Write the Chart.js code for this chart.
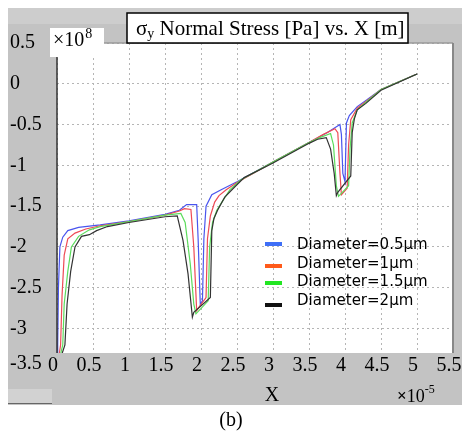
<!DOCTYPE html>
<html>
<head>
<meta charset="utf-8">
<script src="https://cdn.jsdelivr.net/npm/chart.js@4.4.1/dist/chart.umd.min.js"></script>
<style>
html,body{margin:0;padding:0;background:#fff;}
#wrap{width:462px;height:437px;position:relative;}
</style>
</head>
<body>
<div id="wrap"><canvas id="c" width="462" height="437"></canvas></div>
<script>
// ---- data (x in units of 1e-5 m, stress in units of 1e8 Pa) ----
const seriesLabels = ["Diameter=0.5μm", "Diameter=1μm", "Diameter=1.5μm", "Diameter=2μm"];

const xD05 = [0, 0.01, 0.02, 0.04, 0.08, 0.15, 0.3, 0.6, 1.0, 1.5, 1.7, 1.8, 1.94, 1.96, 1.99, 2.02, 2.04, 2.07, 2.15, 2.28, 2.5, 3.0, 3.5, 3.75, 3.93, 3.95, 3.97, 4.0, 4.02, 4.06, 4.17, 4.3, 4.5, 5.0];
const yD05 = [-3.5, -3.2, -2.5, -2.0, -1.88, -1.8, -1.76, -1.73, -1.68, -1.6, -1.55, -1.48, -1.48, -1.9, -2.7, -2.66, -1.9, -1.5, -1.36, -1.3, -1.2, -0.96, -0.72, -0.6, -0.5, -0.62, -1.1, -1.2, -0.48, -0.39, -0.28, -0.2, -0.07, 0.12];

const xD10 = [0, 0.05, 0.07, 0.1, 0.15, 0.25, 0.4, 0.6, 1.0, 1.5, 1.7, 1.77, 1.86, 1.9, 1.94, 1.97, 2.07, 2.09, 2.13, 2.19, 2.25, 2.35, 2.5, 3.0, 3.5, 3.7, 3.86, 3.9, 3.93, 3.95, 4.03, 4.05, 4.08, 4.17, 4.3, 4.5, 5.0];
const yD10 = [-3.5, -3.2, -2.6, -2.1, -1.9, -1.83, -1.78, -1.74, -1.69, -1.61, -1.56, -1.53, -1.54, -2.0, -2.78, -2.74, -2.62, -1.9, -1.62, -1.45, -1.37, -1.3, -1.21, -0.96, -0.72, -0.62, -0.55, -0.6, -1.1, -1.36, -1.28, -0.75, -0.44, -0.3, -0.21, -0.07, 0.12];

const xD15 = [0, 0.08, 0.1, 0.15, 0.2, 0.3, 0.45, 0.6, 1.0, 1.5, 1.6, 1.72, 1.78, 1.85, 1.9, 1.93, 2.1, 2.12, 2.16, 2.22, 2.29, 2.4, 2.55, 3.0, 3.5, 3.65, 3.8, 3.84, 3.88, 3.91, 4.05, 4.07, 4.1, 4.17, 4.3, 4.5, 5.0];
const yD15 = [-3.5, -3.2, -2.7, -2.3, -2.0, -1.87, -1.79, -1.75, -1.69, -1.61, -1.6, -1.59, -1.7, -2.2, -2.7, -2.82, -2.66, -2.0, -1.7, -1.55, -1.45, -1.3, -1.18, -0.96, -0.72, -0.66, -0.61, -0.75, -1.25, -1.38, -1.25, -0.8, -0.48, -0.32, -0.22, -0.07, 0.12];

const xD20 = [0, 0.11, 0.14, 0.19, 0.25, 0.34, 0.45, 0.55, 0.7, 1.0, 1.5, 1.67, 1.75, 1.82, 1.88, 1.9, 2.13, 2.15, 2.18, 2.23, 2.33, 2.45, 2.6, 3.0, 3.5, 3.62, 3.74, 3.8, 3.85, 3.88, 3.9, 4.08, 4.1, 4.13, 4.17, 4.29, 4.5, 5.0];
const yD20 = [-3.5, -3.2, -2.7, -2.3, -2.0, -1.87, -1.85, -1.8, -1.75, -1.7, -1.63, -1.62, -1.92, -2.33, -2.86, -2.8, -2.62, -1.8, -1.65, -1.55, -1.39, -1.28, -1.15, -0.97, -0.73, -0.68, -0.66, -0.8, -1.1, -1.37, -1.33, -1.13, -0.6, -0.43, -0.32, -0.24, -0.08, 0.12];

const xTicks = [0, 0.5, 1, 1.5, 2, 2.5, 3, 3.5, 4, 4.5, 5, 5.5];
const yTicks = [0.5, 0, -0.5, -1, -1.5, -2, -2.5, -3];
const extraYTick = "-3.5";
const titleSym = "σ", titleSub = "y", titleRest = " Normal Stress [Pa] vs. X [m]";
const yExpBase = "×10", yExp = "8";
const xAxisLabel = "X";
const xExpBase = "×10", xExp = "-5";
const caption = "(b)";

const lineColors = ["#4a55ee", "#ee4a55", "#5cdc5c", "#333333"];
const legendColors = ["#3f6ff7", "#ff5a1a", "#22e622", "#111111"];

function pts(xs, ys){ return xs.map((x,i)=>({x:x, y:ys[i]})); }

const decor = {
  id:'decor',
  beforeDraw(chart){
    const ctx = chart.ctx, a = chart.chartArea;
    ctx.save();
    ctx.fillStyle = '#fff'; ctx.fillRect(0,0,462,437);
    ctx.fillStyle = '#c3c3c3'; ctx.fillRect(8,8,454,397);
    ctx.fillStyle = '#cdcdcd'; ctx.fillRect(8,8,454,16);
    ctx.fillStyle = '#fff'; ctx.fillRect(a.left,a.top,a.right-a.left,a.bottom-a.top);
    ctx.restore();
  },
  afterDraw(chart){
    const ctx = chart.ctx, a = chart.chartArea;
    ctx.save();
    // plot borders
    ctx.strokeStyle = '#9a9a9a'; ctx.lineWidth = 1.5;
    ctx.beginPath(); ctx.moveTo(a.left, a.top); ctx.lineTo(a.right, a.top); ctx.stroke();
    ctx.strokeStyle = '#888'; ctx.lineWidth = 2;
    ctx.beginPath(); ctx.moveTo(a.right, a.top); ctx.lineTo(a.right, a.bottom); ctx.stroke();
    ctx.strokeStyle = '#333'; ctx.lineWidth = 1.5;
    ctx.beginPath(); ctx.moveTo(a.left, a.top); ctx.lineTo(a.left, a.bottom); ctx.stroke();

    // title box
    ctx.fillStyle = '#fff'; ctx.fillRect(127,13,281,30);
    ctx.strokeStyle = '#000'; ctx.lineWidth = 1.5; ctx.strokeRect(127,13,281,30);
    ctx.fillStyle = '#000'; ctx.textBaseline = 'alphabetic'; ctx.textAlign = 'left';
    ctx.font = '21px "Liberation Serif"';
    ctx.fillText(titleSym, 136, 35);
    let w = ctx.measureText(titleSym).width;
    ctx.font = '14px "Liberation Serif"';
    ctx.fillText(titleSub, 136 + w, 38);
    let w2 = ctx.measureText(titleSub).width;
    ctx.font = '21px "Liberation Serif"';
    ctx.fillText(titleRest, 136 + w + w2, 35);

    // y exponent box
    ctx.fillStyle = '#fff'; ctx.fillRect(50,28,54,29);
    ctx.fillStyle = '#000';
    ctx.font = '20px "Liberation Serif"';
    ctx.fillText(yExpBase, 53, 46);
    let w3 = ctx.measureText(yExpBase).width;
    ctx.font = '14px "Liberation Serif"';
    ctx.fillText(yExp, 53 + w3 + 1, 38);

    // extra -3.5 label on x-axis row
    ctx.font = '20px "Liberation Serif"';
    ctx.textBaseline = 'middle';
    ctx.fillText(extraYTick, 10, 364);

    // X label and exponent
    ctx.textAlign = 'center';
    ctx.fillText(xAxisLabel, 272, 396);
    ctx.textAlign = 'left';
    ctx.font = 'bold 17px "Liberation Serif"';
    ctx.fillText("×", 397, 397);
    let wx = ctx.measureText("×").width;
    ctx.font = '18px "Liberation Serif"';
    ctx.fillText("10", 397 + wx, 397);
    let w10 = ctx.measureText("10").width;
    ctx.font = '12px "Liberation Serif"';
    ctx.fillText(xExp, 397 + wx + w10, 390);

    // caption
    ctx.font = '20px "Liberation Serif"';
    ctx.textAlign = 'center';
    ctx.fillText(caption, 231, 421);

    // bottom-left artifact
    ctx.fillStyle = '#d2d2d2'; ctx.fillRect(8,389,44,14);
    ctx.fillStyle = '#666'; ctx.fillRect(8,403,44,1);

    // legend
    const rows = [245, 264, 282, 301];
    const lineY = [244, 266, 283, 305];
    ctx.font = '15px "DejaVu Sans"';
    ctx.textAlign = 'left'; ctx.textBaseline = 'middle';
    chart.data.datasets.forEach((ds, i) => {
      ctx.fillStyle = legendColors[i];
      ctx.fillRect(265, lineY[i]-2, 17, 4);
      ctx.fillStyle = '#000';
      ctx.fillText(ds.label, 297, rows[i]);
    });
    ctx.restore();
  }
};

const ticksFont = {family:'"Liberation Serif"', size:20};

new Chart(document.getElementById('c'), {
  type:'line',
  data:{
    datasets:[
      {label:seriesLabels[0], data:pts(xD05,yD05), borderColor:lineColors[0], order:3},
      {label:seriesLabels[1], data:pts(xD10,yD10), borderColor:lineColors[1], order:2},
      {label:seriesLabels[2], data:pts(xD15,yD15), borderColor:lineColors[2], order:1},
      {label:seriesLabels[3], data:pts(xD20,yD20), borderColor:lineColors[3], order:0}
    ].map(d => Object.assign(d, {borderWidth:1.2, pointRadius:0, tension:0, fill:false}))
  },
  options:{
    responsive:false,
    animation:false,
    layout:{padding:{left:10, top:43, right:9, bottom:54}},
    plugins:{legend:{display:false}, tooltip:{enabled:false}, title:{display:false}},
    scales:{
      x:{
        type:'linear', min:0, max:5.5,
        afterBuildTicks(s){ s.ticks = xTicks.map(v=>({value:v})); },
        afterFit(s){ s.height = 30; s.paddingLeft = 0; s.paddingRight = 0; },
        ticks:{font:ticksFont, color:'#000', maxRotation:0, autoSkip:false, padding:1, labelOffset:-4,
               callback:v => String(v)},
        grid:{color:'#b5b5b5', lineWidth:1, drawTicks:false},
        border:{display:false, dash:[2,3]}
      },
      y:{
        type:'linear', min:-3.3, max:0.5,
        afterBuildTicks(s){ s.ticks = yTicks.map(v=>({value:v})); },
        afterFit(s){ s.width = 47; s.paddingTop = 0; s.paddingBottom = 0; },
        ticks:{font:ticksFont, color:'#000', crossAlign:'far', padding:0, autoSkip:false,
               callback:v => String(v)},
        grid:{color:'#b5b5b5', lineWidth:1, drawTicks:false},
        border:{display:false, dash:[2,3]}
      }
    }
  },
  plugins:[decor]
});
</script>
</body>
</html>
